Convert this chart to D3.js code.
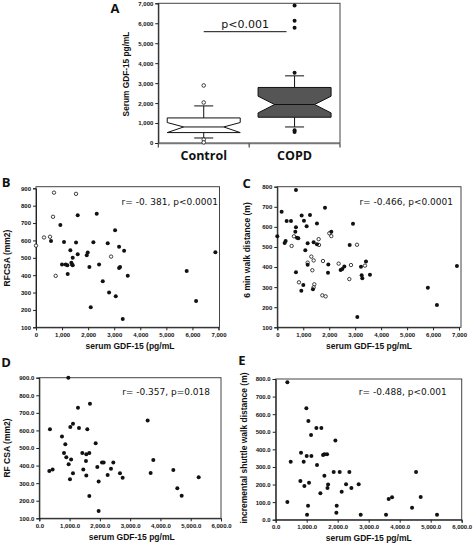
<!DOCTYPE html>
<html><head><meta charset="utf-8">
<script src="https://cdn.jsdelivr.net/npm/d3@7"></script>
<style>body{margin:0;background:#fff}</style>
</head><body><svg id="c" width="473" height="545"></svg>
<script>
// ---------- Panel A: box plot ----------
const groups = ["Control", "COPD"];
const boxQ1 = [522, 1291];
const boxMedian = [804, 1929];
const boxQ3 = [1256, 2783];
const notchLow = [522, 1507];
const notchHigh = [1025, 2346];
const whiskerLow = [251, 804];
const whiskerHigh = [1858, 3365];
const controlOutliers = [2883, 2029, 171, 30];
const copdOutliers = [3516, 5779, 6131, 6884, 638, 553];
const aYTicks = [0, 1000, 2000, 3000, 4000, 5000, 6000, 7000];

// ---------- Panel B ----------
const bFilledGdf = [576,934,1075,1536,1600,2329,2201,2751,3033,3187,3379,1318,1600,1984,1946,1408,998,1139,1203,1357,1382,1408,1216,2048,2419,3187,3225,3519,2560,2803,3059,2099,3327,5780,6140,6880];
const bFilledRfcsa = [597,689,591,588,745,754,589,584,659,564,541,543,520,530,515,501,461,461,457,472,461,457,407,447,461,442,447,396,365,300,279,215,148,424,252,532];
const bOpenGdf = [690,1535,653,307,538,0,755,2880];
const bOpenRfcsa = [875,868,736,617,621,570,396,507];
const bXTicks = [0,1000,2000,3000,4000,5000,6000,7000];
const bYTicks = [100,200,300,400,500,600,700,800,900];

// ---------- Panel C ----------
const cFilledGdf = [719,167,360,527,938,1259,1837,1027,719,694,1130,1528,0,283,321,758,809,1169,1400,1528,1079,2081,2916,2788,719,1169,1965,1953,2440,2504,2582,3416,3224,3250,3275,3570,1002,925,1374,3082,5800,6150,6920];
const cFilledWalk = [783,675,629,629,656,659,695,631,598,576,603,617,553,520,530,546,543,518,523,513,483,576,616,510,374,412,413,372,385,390,403,427,402,359,344,362,311,282,289,151,297,211,405];
const cOpenGdf = [642,552,1593,1605,2004,2081,3070,1310,1400,1169,1760,2363,2838,3378,1349,835,1426,1400,1734,1862,2774];
const cOpenWalk = [553,505,539,510,568,554,511,452,433,422,430,417,410,407,384,324,314,299,259,254,340];
const cXTicks = [0,1000,2000,3000,4000,5000,6000,7000];
const cYTicks = [100,200,300,400,500,600,700,800];

// ---------- Panel D ----------
const dGdf = [958,1277,1673,352,749,1024,1112,1310,1585,859,1861,815,892,1050,1420,1651,1552,1541,1453,969,1112,1013,1552,330,440,1916,2070,2125,2444,1960,2257,2367,1651,1960,2664,2752,3578,3677,3765,4426,4558,4701,5263];
const dRfcsa = [900,729,752,606,566,619,638,614,606,521,527,472,447,435,472,472,464,426,377,407,356,322,343,369,377,392,417,417,417,310,346,382,227,142,356,331,657,358,432,375,271,229,333];
const dXTicks = [0,1000,2000,3000,4000,5000,6000];
const dYTicks = [100,200,300,400,500,600,700,800,900];

// ---------- Panel E ----------
const eGdf = [376,989,1054,1312,1473,1140,1925,484,817,1000,1151,903,1333,1527,1570,1656,1570,1871,2065,2376,796,1075,925,1690,1670,2129,2269,2441,2677,1441,376,1043,1968,1957,1011,2742,3559,3645,3753,4398,4527,4677,5204];
const eShuttle = [781,633,561,521,521,481,451,330,381,362,362,330,311,368,372,372,250,271,271,271,220,210,191,200,180,159,201,180,201,150,100,80,80,40,28,28,28,118,127,68,271,129,28];
const eXTicks = [0,1000,2000,3000,4000,5000,6000];
const eYTicks = [0,100,200,300,400,500,600,700,800];

const svg = d3.select("#c");
const tickFont = "'Liberation Sans', Arial, sans-serif";
const titleFont = "'Liberation Sans', Arial, sans-serif";
const annFont = "'DejaVu Sans', sans-serif";
const bigFont = "'Open Sans', sans-serif";

function styleAxis(g) {
  g.selectAll("path.domain").attr("stroke", "#222").attr("stroke-width", 1);
  g.selectAll(".tick line").attr("stroke", "#222").attr("stroke-width", 1);
  g.selectAll(".tick text").attr("font-family", tickFont).attr("font-weight", "bold")
    .attr("font-size", "6px").attr("fill", "#111");
}

function letter(t, x, y) {
  svg.append("text").attr("x", x).attr("y", y).text(t)
    .attr("font-family", bigFont).attr("font-weight", "bold").attr("font-size", "13px")
    .attr("text-anchor", "middle").attr("dominant-baseline", "central").attr("fill", "#111");
}

// ====== Panel A ======
(function () {
  const y = d3.scaleLinear().domain([0, 7000]).range([143, 3.3]);
  const x = d3.scaleBand().domain(groups).range([158.3, 340]);
  const g = svg.append("g");
  g.append("rect").attr("x", 158.3).attr("y", 3.3).attr("width", 181.7).attr("height", 139.7)
    .attr("fill", "none").attr("stroke", "#444").attr("stroke-width", 1);
  const ya = g.append("g").attr("transform", "translate(158.3,0)")
    .call(d3.axisLeft(y).tickValues(aYTicks).tickFormat(d3.format(",")).tickSize(3).tickPadding(2));
  styleAxis(ya);
  g.append("line").attr("x1", 158.3).attr("x2", 340).attr("y1", 143.5).attr("y2", 143.5)
    .attr("stroke", "#777").attr("stroke-width", 1.5);
  const bounds = [x(groups[0])].concat(groups.map(d => x(d) + x.bandwidth()));
  g.selectAll(".bt").data(bounds).enter().append("line")
    .attr("x1", d => d).attr("x2", d => d).attr("y1", 143.5).attr("y2", 147.5)
    .attr("stroke", "#222");
  g.selectAll(".cat").data(groups).enter().append("text")
    .attr("x", d => x(d) + x.bandwidth() / 2).attr("y", 160).text(d => d)
    .attr("text-anchor", "middle").attr("font-family", bigFont).attr("font-weight", "bold")
    .attr("font-size", "12.5px").attr("fill", "#111");
  g.append("text").attr("transform", "translate(129,74) rotate(-90)").text("Serum GDF-15 pg/mL")
    .attr("text-anchor", "middle").attr("font-family", titleFont).attr("font-weight", "bold")
    .attr("font-size", "8.3px").attr("fill", "#111");
  const boxW = 73, nW = 40, capW = 19;
  groups.forEach((grp, i) => {
    const cx = x(grp) + x.bandwidth() / 2;
    const L = cx - boxW / 2, R = cx + boxW / 2;
    const p = d3.path();
    p.moveTo(L, y(boxQ3[i])); p.lineTo(R, y(boxQ3[i])); p.lineTo(R, y(notchHigh[i]));
    p.lineTo(cx + nW / 2, y(boxMedian[i])); p.lineTo(R, y(notchLow[i])); p.lineTo(R, y(boxQ1[i]));
    p.lineTo(L, y(boxQ1[i])); p.lineTo(L, y(notchLow[i])); p.lineTo(cx - nW / 2, y(boxMedian[i]));
    p.lineTo(L, y(notchHigh[i])); p.closePath();
    const fill = i === 0 ? "#fff" : "#555";
    [[boxQ3[i], whiskerHigh[i]], [boxQ1[i], whiskerLow[i]]].forEach(([a, b]) => {
      g.append("line").attr("x1", cx).attr("x2", cx).attr("y1", y(a)).attr("y2", y(b)).attr("stroke", "#111");
      g.append("line").attr("x1", cx - capW / 2).attr("x2", cx + capW / 2).attr("y1", y(b)).attr("y2", y(b)).attr("stroke", "#111");
    });
    g.append("path").attr("d", p.toString()).attr("fill", fill).attr("stroke", "#111").attr("stroke-width", 1);
    g.append("line").attr("x1", cx - nW / 2).attr("x2", cx + nW / 2).attr("y1", y(boxMedian[i])).attr("y2", y(boxMedian[i]))
      .attr("stroke", "#111").attr("stroke-width", 1);
  });
  const cC = x("Control") + x.bandwidth() / 2, cP = x("COPD") + x.bandwidth() / 2;
  g.selectAll(".oc").data(controlOutliers).enter().append("circle")
    .attr("cx", cC).attr("cy", d => y(d)).attr("r", 1.8).attr("fill", "#fff").attr("stroke", "#111").attr("stroke-width", 0.8);
  g.selectAll(".op").data(copdOutliers).enter().append("circle")
    .attr("cx", cP).attr("cy", d => y(d)).attr("r", 2).attr("fill", "#111");
  g.append("line").attr("x1", cC).attr("x2", cP - 8).attr("y1", 31.7).attr("y2", 31.7).attr("stroke", "#111");
  g.append("text").attr("x", (cC + cP - 8) / 2).attr("y", 27.5).text("p<0.001")
    .attr("text-anchor", "middle").attr("font-family", annFont).attr("font-size", "11px").attr("fill", "#111");
  letter("A", 115, 8);
})();

// ====== Scatter panels ======
function scatter(o) {
  const x = d3.scaleLinear().domain(o.xDomain).range(o.xRange);
  const y = d3.scaleLinear().domain(o.yDomain).range(o.yRange);
  const g = svg.append("g");
  g.append("rect").attr("x", o.xRange[0]).attr("y", o.top).attr("width", o.right - o.xRange[0])
    .attr("height", o.yRange[0] - o.top).attr("fill", "none").attr("stroke", "#444").attr("stroke-width", 1);
  const xa = g.append("g").attr("transform", `translate(0,${o.yRange[0]})`)
    .call(d3.axisBottom(x).tickValues(o.xTicks).tickFormat(o.xFmt).tickSize(3).tickPadding(2));
  styleAxis(xa);
  const ya = g.append("g").attr("transform", `translate(${o.xRange[0]},0)`)
    .call(d3.axisLeft(y).tickValues(o.yTicks).tickFormat(o.yFmt).tickSize(3).tickPadding(2));
  styleAxis(ya);
  g.append("text").attr("x", o.xTitlePos[0]).attr("y", o.xTitlePos[1]).text(o.xTitle)
    .attr("text-anchor", "middle").attr("font-family", titleFont).attr("font-weight", "bold")
    .attr("font-size", "8.5px").attr("fill", "#111");
  g.append("text").attr("transform", `translate(${o.yTitlePos[0]},${o.yTitlePos[1]}) rotate(-90)`).text(o.yTitle)
    .attr("text-anchor", "middle").attr("font-family", titleFont).attr("font-weight", "bold")
    .attr("font-size", "8.5px").attr("fill", "#111");
  g.append("text").attr("x", o.annPos[0]).attr("y", o.annPos[1]).text(o.ann)
    .attr("text-anchor", "end").attr("font-family", annFont).attr("font-size", "9px").attr("fill", "#111");
  if (o.openX) {
    g.selectAll(".o").data(o.openX.map((v, i) => [v, o.openY[i]])).enter().append("circle")
      .attr("cx", d => x(d[0])).attr("cy", d => y(d[1])).attr("r", 1.7)
      .attr("fill", "#fff").attr("stroke", "#111").attr("stroke-width", 0.8);
  }
  g.selectAll(".f").data(o.fillX.map((v, i) => [v, o.fillY[i]])).enter().append("circle")
    .attr("cx", d => x(d[0])).attr("cy", d => y(d[1])).attr("r", 2)
    .attr("fill", "#111");
  letter(o.letter, o.letterPos[0], o.letterPos[1]);
}

const fmtInt = d3.format(",");
const fmtDec = d3.format(",.1f");
const fmtY1 = d3.format(".1f");

scatter({
  xDomain: [0, 7000], xRange: [36, 218.5], yDomain: [100, 900], yRange: [327.3, 188.3],
  top: 186.7, right: 219.5, xTicks: bXTicks, yTicks: bYTicks, xFmt: fmtInt, yFmt: d3.format("d"),
  fillX: bFilledGdf, fillY: bFilledRfcsa, openX: bOpenGdf, openY: bOpenRfcsa,
  xTitle: "serum GDF-15 (pg/mL", xTitlePos: [130, 348.5],
  yTitle: "RFCSA (mm2)", yTitlePos: [10, 258],
  ann: "r= -0. 381, p<0.0001", annPos: [218, 204.5],
  letter: "B", letterPos: [6, 181.7]
});
scatter({
  xDomain: [0, 7000], xRange: [277.3, 459], yDomain: [100, 800], yRange: [327.3, 186.7],
  top: 186.7, right: 461, xTicks: cXTicks, yTicks: cYTicks, xFmt: fmtInt, yFmt: d3.format("d"),
  fillX: cFilledGdf, fillY: cFilledWalk, openX: cOpenGdf, openY: cOpenWalk,
  xTitle: "serum GDF-15 pg/mL", xTitlePos: [369, 348.5],
  yTitle: "6 min walk distance (m)", yTitlePos: [250, 250],
  ann: "r= -0.466, p<0.0001", annPos: [453, 204.5],
  letter: "C", letterPos: [246.7, 183.3]
});
scatter({
  xDomain: [0, 6000], xRange: [39.3, 221], yDomain: [100, 900], yRange: [518.3, 377.7],
  top: 377.7, right: 221, xTicks: dXTicks, yTicks: dYTicks, xFmt: fmtDec, yFmt: fmtY1,
  fillX: dGdf, fillY: dRfcsa,
  xTitle: "serum GDF-15 pg/mL", xTitlePos: [131.7, 540],
  yTitle: "RF CSA (mm2)", yTitlePos: [10, 448],
  ann: "r= -0.357, p=0.018", annPos: [210, 394.5],
  letter: "D", letterPos: [6, 361.7]
});
scatter({
  xDomain: [0, 6000], xRange: [275.7, 461.7], yDomain: [0, 800], yRange: [519.7, 379],
  top: 379, right: 461.7, xTicks: eXTicks, yTicks: eYTicks, xFmt: fmtDec, yFmt: fmtY1,
  fillX: eGdf, fillY: eShuttle,
  xTitle: "serum GDF-15 pg/mL", xTitlePos: [368.7, 541],
  yTitle: "incremental shuttle walk distance (m)", yTitlePos: [247, 448],
  ann: "r= -0.488, p<0.001", annPos: [446.7, 394.5],
  letter: "E", letterPos: [242, 360]
});
</script></body></html>
